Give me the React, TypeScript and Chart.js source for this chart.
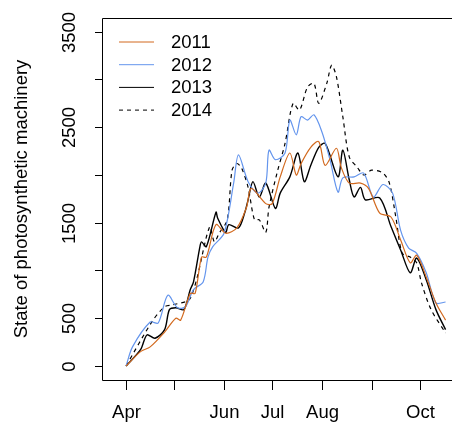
import React, { useEffect, useRef } from "react";
import { Chart, registerables } from "chart.js";
Chart.register(...registerables);

const monthTicks = [91, 121, 152, 182, 213, 244, 274];
const monthLabels = ["Apr", "", "Jun", "Jul", "Aug", "", "Oct"];
const yTicks = [0, 500, 1000, 1500, 2000, 2500, 3000, 3500];
const yLabels = ["0", "500", "", "1500", "", "2500", "", "3500"];
const seriesNames = ["2011", "2012", "2013", "2014"];
const seriesColors = ["#d2691e", "#6495ed", "#000000", "#000000"];

const days2011 = [91, 100, 106, 115, 122, 125, 131, 134, 138, 141, 147, 153, 160, 166, 169, 178, 182, 187, 193, 197, 200, 206, 211, 215, 222, 225, 230, 237, 242, 249, 256, 262, 268, 272, 278, 284, 290];
const vals2011 = [0, 150, 200, 355, 500, 480, 760, 760, 1140, 1140, 1480, 1390, 1445, 1660, 1860, 1700, 1700, 1980, 2230, 2000, 2120, 2290, 2350, 2100, 2280, 2080, 1915, 1915, 1860, 1600, 1560, 1320, 1080, 1160, 930, 660, 480];

const days2012 = [91, 95, 106, 111, 117, 123, 128, 133, 139, 142, 145, 152, 158, 161, 167, 173, 178, 180, 184, 190, 193, 197, 200, 204, 208, 213, 218, 223, 226, 233, 239, 245, 251, 257, 262, 267, 272, 278, 284, 290];
const vals2012 = [0, 200, 460, 450, 740, 610, 620, 800, 880, 1140, 1250, 1390, 1915, 2210, 1930, 1810, 1915, 2260, 2160, 2230, 2575, 2420, 2610, 2575, 2630, 2450, 2160, 1820, 1970, 1980, 2020, 1770, 1900, 1810, 1420, 1235, 1180, 975, 660, 670];

const days2013 = [91, 100, 104, 109, 115, 118, 122, 127, 131, 133, 137, 138, 141, 147, 148, 153, 155, 161, 165, 167, 170, 174, 178, 184, 187, 193, 198, 202, 206, 211, 215, 223, 226, 230, 233, 237, 240, 249, 256, 262, 268, 272, 278, 284, 290];
const vals2013 = [0, 170, 325, 290, 380, 590, 610, 590, 800, 880, 1250, 1300, 1250, 1610, 1550, 1400, 1480, 1445, 1610, 1740, 1930, 1770, 1915, 1650, 1810, 1980, 2230, 1930, 2100, 2290, 2330, 1980, 2260, 1950, 1770, 1870, 1740, 1760, 1460, 1215, 975, 1130, 900, 590, 380];

const days2014 = [91, 107, 115, 120, 131, 143, 146, 149, 154, 157, 160, 163, 167, 171, 174, 178, 180, 185, 190, 195, 199, 204, 208, 211, 216, 219, 222, 226, 230, 235, 239, 244, 251, 255, 259, 263, 268, 272, 275, 281, 290];
const vals2014 = [0, 460, 620, 640, 710, 1455, 1300, 1390, 1530, 2050, 2120, 2070, 1870, 1530, 1530, 1400, 1660, 2020, 2330, 2750, 2680, 2920, 2960, 2750, 2960, 3150, 3030, 2610, 2190, 2080, 2000, 2050, 2020, 1915, 1560, 1180, 1140, 1080, 870, 590, 345];

const FONT = "'Liberation Sans', Arial, sans-serif";

export default function App() {
  const ref = useRef<HTMLCanvasElement>(null);
  useEffect(() => {
    document.body.style.margin = "0";
    const mk = (d: number[], v: number[]) => d.map((x, i) => ({ x, y: v[i] }));
    const data = [mk(days2011, vals2011), mk(days2012, vals2012), mk(days2013, vals2013), mk(days2014, vals2014)];
    const deco = {
      id: "deco",
      afterDraw(chart: any) {
        const c = chart.ctx;
        const a = chart.chartArea;
        const xs = chart.scales.x, ys = chart.scales.y;
        c.save();
        c.strokeStyle = "#000";
        c.lineWidth = 1;
        c.beginPath();
        c.moveTo(452, a.top + 0.5); c.lineTo(a.left + 0.5, a.top + 0.5);
        c.lineTo(a.left + 0.5, a.bottom + 0.5); c.lineTo(452, a.bottom + 0.5);
        c.stroke();
        c.fillStyle = "#000";
        c.font = `18.5px ${FONT}`;
        c.textAlign = "center";
        c.textBaseline = "middle";
        monthTicks.forEach((d, i) => {
          const px = Math.round(xs.getPixelForValue(d)) + 0.5;
          c.beginPath(); c.moveTo(px, a.bottom); c.lineTo(px, a.bottom + 10); c.stroke();
          if (monthLabels[i]) c.fillText(monthLabels[i], px, a.bottom + 33);
        });
        yTicks.forEach((v, i) => {
          const py = Math.round(ys.getPixelForValue(v)) + 0.5;
          c.beginPath(); c.moveTo(a.left, py); c.lineTo(a.left - 7, py); c.stroke();
          if (yLabels[i]) {
            c.save(); c.translate(a.left - 32, py); c.rotate(-Math.PI / 2);
            c.fillText(yLabels[i], 0, 0); c.restore();
          }
        });
        c.save(); c.translate(22, 199); c.rotate(-Math.PI / 2);
        c.fillText("State of photosynthetic machinery", 0, 0); c.restore();
        seriesNames.forEach((n, i) => {
          const yy = 42 + i * 22.7;
          c.strokeStyle = seriesColors[i];
          c.setLineDash(i === 3 ? [4, 4] : []);
          c.beginPath(); c.moveTo(119, yy); c.lineTo(154, yy); c.stroke();
          c.setLineDash([]);
          c.textAlign = "left";
          c.fillText(n, 171, yy + 1);
        });
        c.restore();
      },
    };
    const chart = new Chart(ref.current!, {
      type: "line",
      data: {
        datasets: data.map((d, i) => ({
          label: seriesNames[i],
          data: d,
          borderColor: seriesColors[i],
          borderWidth: i === 2 ? 1.4 : 1.2,
          borderDash: i === 3 ? [4, 4] : [],
          pointRadius: 0,
          tension: 0.3,
          fill: false,
        })),
      },
      options: {
        animation: false,
        responsive: false,
        layout: { padding: { left: 102, top: 18, right: 0, bottom: 44 } },
        plugins: { legend: { display: false }, tooltip: { enabled: false } },
        scales: {
          x: { type: "linear", min: 76, max: 294, display: false },
          y: { type: "linear", min: -147, max: 3644, display: false },
        },
      },
      plugins: [deco],
    });
    return () => chart.destroy();
  }, []);
  return <canvas ref={ref} width={452} height={424} style={{ display: "block" }} />;
}
